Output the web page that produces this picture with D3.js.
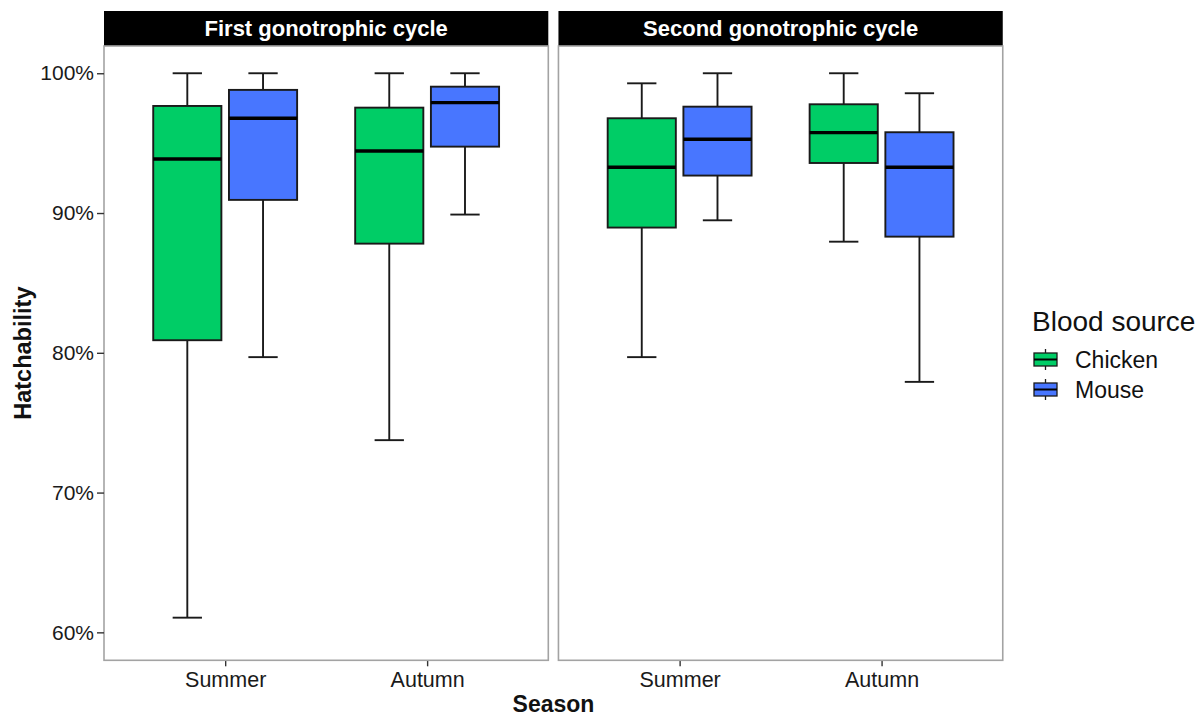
<!DOCTYPE html>
<html>
<head>
<meta charset="utf-8">
<script src="https://cdn.jsdelivr.net/npm/d3@7"></script>
<style>
  body { margin: 0; background: #fff; }
  text { font-family: "Liberation Sans", Arial, sans-serif; }
</style>
</head>
<body>
<svg width="1200" height="717"></svg>
<script>
const svg = d3.select("svg");

const cycles = ["First gonotrophic cycle", "Second gonotrophic cycle"];
const seasons = ["Summer", "Autumn"];
const sources = ["Chicken", "Mouse"];
const colors = ["#00CD66", "#4876FF"];
const yTicks = [60, 70, 80, 90, 100];

// [lower whisker, Q1, median, Q3, upper whisker] in %, per season (Summer, Autumn)
const firstChicken = [[61.05, 80.9, 93.87, 97.66, 100], [73.75, 87.81, 94.44, 97.54, 100]];
const firstMouse = [[79.69, 90.94, 96.78, 98.81, 100], [89.89, 94.75, 97.9, 99.04, 100]];
const secondChicken = [[79.69, 88.96, 93.28, 96.78, 99.28], [87.95, 93.58, 95.75, 97.78, 100]];
const secondMouse = [[89.48, 92.68, 95.28, 97.61, 100], [77.92, 88.31, 93.28, 95.78, 98.57]];

const stats = [[firstChicken, firstMouse], [secondChicken, secondMouse]];

const rows = [];
cycles.forEach((c, ci) => {
  sources.forEach((s, si) => {
    seasons.forEach((se, k) => {
      const v = stats[ci][si][k];
      rows.push({cycle: c, source: s, season: se, min: v[0], q1: v[1], med: v[2], q3: v[3], max: v[4]});
    });
  });
});

const panelTop = 46, panelBottom = 660.3, panelW = 444.3;
const panelX = d3.scaleBand().domain(cycles).range([104, 1003]).paddingInner(10 / 459);
const y = d3.scaleLinear().domain([58.0, 101.95]).range([panelBottom, panelTop]);
const x = d3.scalePoint().domain(seasons).range([0, panelW]).padding(0.6);
const dodge = d3.scaleBand().domain(sources).range([-0.375 * x.step(), 0.375 * x.step()]).paddingInner(0.1).paddingOuter(0.05);
const color = d3.scaleOrdinal().domain(sources).range(colors);
const bw = dodge.bandwidth(), capW = bw * 0.43;
const ink = "#1a1a1a";

//PANELS
cycles.forEach(c => {
  const px = panelX(c);
  const g = svg.append("g").attr("transform", "translate(" + px + ",0)");

  // strip
  g.append("rect").attr("x", 0).attr("y", 11).attr("width", panelW).attr("height", panelTop - 11).attr("fill", "#000");
  g.append("text")
   .attr("x", panelW / 2).attr("y", 36)
   .attr("text-anchor", "middle")
   .attr("font-size", "22px").attr("font-weight", "bold").attr("fill", "#fff")
   .text(c);

  // x axis
  const xa = g.append("g").attr("transform", "translate(0," + panelBottom + ")")
    .call(d3.axisBottom(x).tickSize(6).tickPadding(5));
  xa.select(".domain").remove();
  xa.selectAll("line").attr("stroke", "#333").attr("stroke-width", 1.4);
  xa.selectAll("text").attr("font-size", "21.5px").attr("fill", ink).attr("font-family", "Liberation Sans, Arial, sans-serif").attr("dy", "0.75em");

  // boxes
  const data = rows.filter(d => d.cycle === c);
  const box = g.selectAll(".box").data(data).enter().append("g")
    .attr("class", "box")
    .attr("transform", d => "translate(" + (x(d.season) + dodge(d.source) + bw / 2) + ",0)");

  box.append("line").attr("y1", d => y(d.max)).attr("y2", d => y(d.q3))
     .attr("stroke", ink).attr("stroke-width", 1.9);
  box.append("line").attr("y1", d => y(d.q1)).attr("y2", d => y(d.min))
     .attr("stroke", ink).attr("stroke-width", 1.9);
  box.append("line").attr("x1", -capW / 2).attr("x2", capW / 2).attr("y1", d => y(d.max)).attr("y2", d => y(d.max))
     .attr("stroke", ink).attr("stroke-width", 1.9);
  box.append("line").attr("x1", -capW / 2).attr("x2", capW / 2).attr("y1", d => y(d.min)).attr("y2", d => y(d.min))
     .attr("stroke", ink).attr("stroke-width", 1.9);
  box.append("rect")
     .attr("x", -bw / 2).attr("width", bw)
     .attr("y", d => y(d.q3)).attr("height", d => y(d.q1) - y(d.q3))
     .attr("fill", d => color(d.source)).attr("stroke", ink).attr("stroke-width", 1.9);
  box.append("line").attr("x1", -bw / 2).attr("x2", bw / 2).attr("y1", d => y(d.med)).attr("y2", d => y(d.med))
     .attr("stroke", "#000").attr("stroke-width", 3.4);

  // border
  g.append("rect").attr("x", 0).attr("y", panelTop).attr("width", panelW).attr("height", panelBottom - panelTop)
   .attr("fill", "none").attr("stroke", "#a3a3a3").attr("stroke-width", 1.6);
});

//Y AXIS
const ya = svg.append("g").attr("transform", "translate(" + panelX(cycles[0]) + ",0)")
  .call(d3.axisLeft(y).tickValues(yTicks).tickSize(7).tickPadding(3).tickFormat(d => d + "%"));
ya.select(".domain").remove();
ya.selectAll("line").attr("stroke", "#333").attr("stroke-width", 1.4);
ya.selectAll("text").attr("font-size", "21px").attr("fill", ink).attr("font-family", "Liberation Sans, Arial, sans-serif");

//AXIS TITLES
svg.append("text")
   .attr("x", 553.5).attr("y", 712)
   .attr("text-anchor", "middle")
   .attr("font-size", "23px").attr("font-weight", "bold").attr("fill", "#111")
   .text("Season");

svg.append("text")
   .attr("transform", "translate(31," + ((panelTop + panelBottom) / 2) + ") rotate(-90)")
   .attr("text-anchor", "middle")
   .attr("font-size", "23.5px").attr("font-weight", "bold").attr("fill", "#111")
   .text("Hatchability");

//LEGEND
const legend = svg.append("g").attr("transform", "translate(1032,0)");
legend.append("text")
   .attr("x", 0).attr("y", 331)
   .attr("font-size", "28px").attr("fill", "#111")
   .text("Blood source");

const key = legend.selectAll(".key").data(sources).enter().append("g")
   .attr("class", "key")
   .attr("transform", (d, i) => "translate(0," + (359.5 + i * 30) + ")");
key.append("line").attr("x1", 13.5).attr("x2", 13.5).attr("y1", -10.5).attr("y2", 10.5)
   .attr("stroke", ink).attr("stroke-width", 1.3);
key.append("rect").attr("x", 2).attr("y", -6.5).attr("width", 23).attr("height", 13)
   .attr("fill", d => color(d)).attr("stroke", ink).attr("stroke-width", 1.3);
key.append("line").attr("x1", 2).attr("x2", 25).attr("y1", 0).attr("y2", 0)
   .attr("stroke", "#000").attr("stroke-width", 2);
key.append("text")
   .attr("x", 43).attr("y", 0).attr("dy", "0.36em")
   .attr("font-size", "23px").attr("fill", "#111")
   .text(d => d);
</script>
</body>
</html>
